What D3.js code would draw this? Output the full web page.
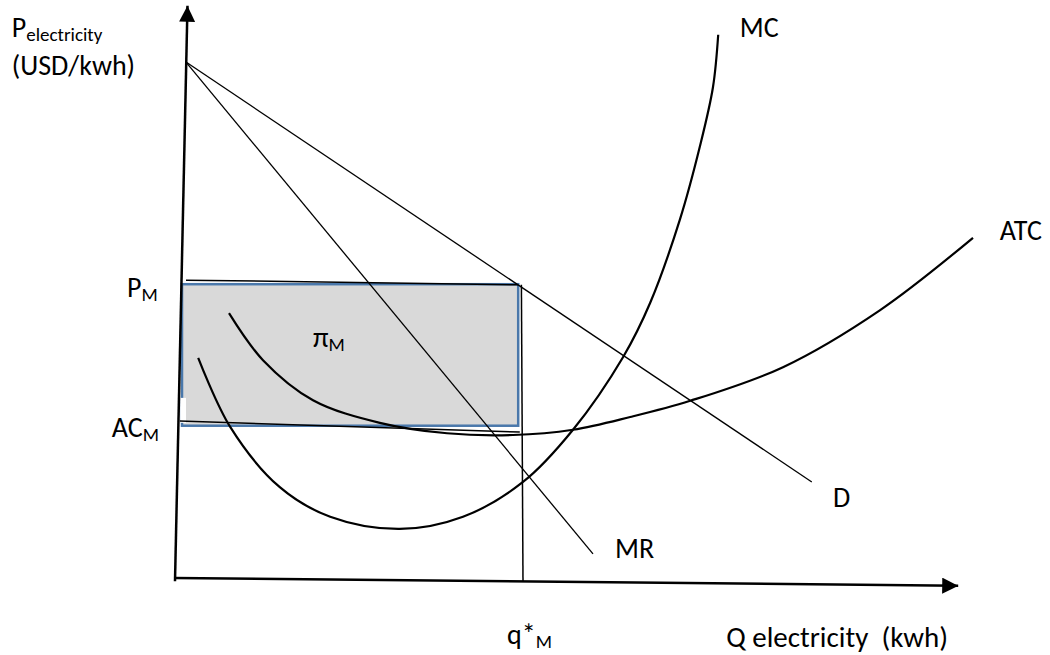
<!DOCTYPE html>
<html>
<head>
<meta charset="utf-8">
<script src="https://cdn.jsdelivr.net/npm/d3@7"></script>
<style>
  html, body { margin: 0; padding: 0; background: #fff; }
  svg { display: block; }
  text { font-family: Carlito, Lato, "Open Sans", sans-serif; fill: #000; white-space: pre; }
</style>
</head>
<body>
<svg id="chart" width="1050" height="655"></svg>
<script>
// ---- Data (quantity q, price p in chart units) ----
const demandLine = [[1.375, 89.3], [79.6, 16.9]];            // D
const mrLine = [[1.375, 89.3], [52.25, 4.5]];                // MR
const atcCurve = [[6.75, 46.0], [11.0, 37.9], [17.25, 31.0], [25.6, 27.1], [34.0, 25.3],
                  [42.25, 25.0], [49.75, 25.9], [56.9, 28.1], [64.4, 30.9], [76.0, 36.7],
                  [88.1, 46.5], [99.75, 59.0]];               // ATC
const mcCurve = [[2.9, 38.3], [6.9, 26.4], [13.1, 16.0], [19.4, 10.9], [28.1, 8.8],
                 [36.0, 10.9], [43.5, 16.9], [49.75, 25.9], [56.0, 38.4], [59.4, 47.8],
                 [63.1, 62.1], [65.6, 74.7], [67.25, 85.0], [67.9, 94.0]];   // MC
const priceM = [[1.375, 51.7], [42.9, 50.9]];                // P_M level line
const avgCostM = [[0.6, 27.4], [43.1, 25.5]];                // AC_M level line
const qStarLine = [[43.3, 50.9], [43.5, -0.3]];              // q*_M
const profitRect = {q0: 0.875, q1: 42.9, p0: 26.6, p1: 51.0}; // π_M area
const rectGap = {q0: 0.69, q1: 1.375, p0: 27.1, p1: 31.4};    // white gap on left edge
const yAxisLine = [[0, -0.2], [1.56, 99.0]];
const xAxisLine = [[-0.125, 0.35], [97.9, -1.0]];

const curveLabels = ["MC", "ATC", "D", "MR"];
const levelLabels = [["P", "M"], ["AC", "M"]];
const areaLabel = ["π", "M"];
const qLabel = ["q*", "M"];
const yTitle = ["P", "electricity"];
const yUnit = "(USD/kwh)";
const xTitle = "Q electricity  (kwh)";

// ---- Scales ----
const svg = d3.select("#chart");
const x = d3.scaleLinear().domain([0, 100]).range([175, 975]);
const y = d3.scaleLinear().domain([0, 100]).range([580, 0]);

const line = d3.line().x(d => x(d[0])).y(d => y(d[1]));
const smooth = d3.line().x(d => x(d[0])).y(d => y(d[1])).curve(d3.curveCatmullRom.alpha(0.5));

// arrow marker
const defs = svg.append("defs");
defs.append("marker").attr("id", "arrow")
  .attr("viewBox", "0 0 16 16").attr("refX", 16).attr("refY", 8)
  .attr("markerWidth", 16).attr("markerHeight", 16).attr("markerUnits", "userSpaceOnUse")
  .attr("orient", "auto")
  .append("path").attr("d", "M0,0 L16,8 L0,16 Z").attr("fill", "#000");

// profit rectangle
svg.append("rect")
  .attr("x", x(profitRect.q0)).attr("y", y(profitRect.p1))
  .attr("width", x(profitRect.q1) - x(profitRect.q0))
  .attr("height", y(profitRect.p0) - y(profitRect.p1))
  .attr("fill", "#d9d9d9").attr("stroke", "#4a78ab").attr("stroke-width", 2.5);
svg.append("rect")
  .attr("x", x(rectGap.q0)).attr("y", y(rectGap.p1))
  .attr("width", x(rectGap.q1) - x(rectGap.q0))
  .attr("height", y(rectGap.p0) - y(rectGap.p1))
  .attr("fill", "#fff");

// axes
svg.append("path").datum(yAxisLine).attr("d", line)
  .attr("stroke", "#000").attr("stroke-width", 2.5).attr("fill", "none")
  .attr("marker-end", "url(#arrow)");
svg.append("path").datum(xAxisLine).attr("d", line)
  .attr("stroke", "#000").attr("stroke-width", 2.5).attr("fill", "none")
  .attr("marker-end", "url(#arrow)");

// level lines
[priceM, avgCostM].forEach(l => svg.append("path").datum(l).attr("d", line)
  .attr("stroke", "#000").attr("stroke-width", 1.5).attr("fill", "none"));
svg.append("path").datum(qStarLine).attr("d", line)
  .attr("stroke", "#000").attr("stroke-width", 1.5).attr("fill", "none");

// D and MR
[demandLine, mrLine].forEach(l => svg.append("path").datum(l).attr("d", line)
  .attr("stroke", "#000").attr("stroke-width", 1.3).attr("fill", "none"));

// curves
[atcCurve, mcCurve].forEach(c => svg.append("path").datum(c).attr("d", smooth)
  .attr("stroke", "#000").attr("stroke-width", 2.2).attr("fill", "none"));

// ---- Labels ----
const fs = 28, fsSub = 19;
function label(parts, q, p, size) {
  const t = svg.append("text").attr("x", x(q)).attr("y", y(p)).attr("font-size", size || fs);
  t.append("tspan").text(parts[0]);
  if (parts[1]) t.append("tspan").attr("font-size", fsSub).attr("dy", 4).text(parts[1]);
  return t;
}
label([curveLabels[0]], 70.6, 93.6);
label([curveLabels[1]], 103.1, 58.6);
label([curveLabels[2]], 82.25, 12.6);
label([curveLabels[3]], 55.0, 3.8);
label(levelLabels[0], -6.0, 48.8);
label(levelLabels[1], -7.9, 24.7);
label(areaLabel, 17.25, 40.2);
label(qLabel, 41.5, -11.0);
label(yTitle, -20.4, 93.6);
label([yUnit], -20.4, 87.1);
label([xTitle], 68.9, -11.5, 29);
</script>
</body>
</html>
